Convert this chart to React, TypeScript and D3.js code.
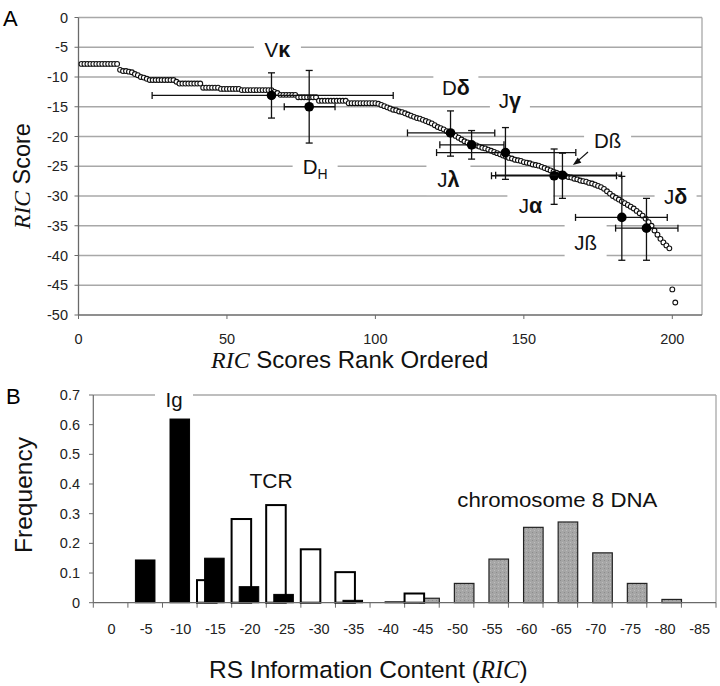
import React from "react";
import * as d3 from "d3";

// ---------- Panel A data ----------
const rankScores: number[] = [
  -7.8, -7.8, -7.8, -7.8, -7.8, -7.8, -7.8, -7.8, -7.8, -7.8, -7.8, -7.8, -7.8,
  -8.8, -9.0, -9.0, -9.1, -9.2, -9.5, -9.7, -10.0, -10.1, -10.3,
  -10.5, -10.5, -10.5, -10.5, -10.5, -10.5, -10.5, -10.5, -10.5,
  -10.8,
  -11.1, -11.1, -11.1, -11.1, -11.1, -11.1, -11.1, -11.1,
  -11.8, -11.8, -11.8, -11.8, -11.8, -11.8,
  -12.0, -12.0, -12.0, -12.0, -12.0, -12.0, -12.0,
  -12.2, -12.2, -12.2, -12.2, -12.2, -12.2, -12.2, -12.2, -12.2, -12.2, -12.2,
  -12.5, -12.7,
  -13.0, -13.0, -13.0, -13.0, -13.0, -13.0,
  -13.4, -13.4, -13.4, -13.4, -13.4, -13.4, -13.4,
  -14.0, -14.0, -14.0, -14.0, -14.0, -14.0, -14.0, -14.0, -14.0, -14.0,
  -14.4, -14.4, -14.4, -14.4, -14.4, -14.4, -14.4, -14.4, -14.4, -14.4,
  -14.5, -14.7, -14.9, -15.1, -15.3, -15.5, -15.6, -15.8, -15.9, -16.1,
  -16.3, -16.5, -16.7, -16.9, -17.0, -17.2, -17.4, -17.6, -17.8, -18.1,
  -18.4, -18.6, -18.8, -19.1, -19.3, -19.6, -19.9, -20.2, -20.5, -20.8,
  -21.0, -21.2, -21.4, -21.5, -21.7, -21.9, -22.0, -22.2, -22.4, -22.6,
  -22.8, -23.0, -23.2, -23.4, -23.6, -23.7, -23.9, -24.0, -24.1, -24.3,
  -24.4, -24.5, -24.7, -24.8, -24.9, -25.1, -25.3, -25.5, -25.7, -25.9,
  -26.1, -26.3, -26.5, -26.6, -26.8, -26.9, -27.1, -27.2, -27.4, -27.5,
  -27.6, -27.8, -27.9, -28.1, -28.3, -28.5, -28.8, -29.2, -29.6, -30.0,
  -30.3, -30.6, -30.9, -31.2, -31.5, -31.8, -32.1, -32.5, -32.9, -33.3,
  -33.8, -34.4, -35.0, -35.8, -36.5, -37.2, -37.8, -38.3, -38.8,
  -45.7, -47.9,
];

const markerNames = ["Vκ", "DH", "Dδ", "Jγ", "Dß", "Jλ", "Jα", "Jß", "Jδ"];
const markerRank = [65.0, 77.7, 125.3, 132.4, 143.8, 160.2, 163.0, 183.0, 191.3];
const markerScore = [-13.1, -15.0, -19.4, -21.4, -22.7, -26.6, -26.5, -33.6, -35.4];
const markerRankLo = [24.8, 69.3, 110.8, 121.7, 120.6, 139.1, 140.5, 167.4, 180.9];
const markerRankHi = [106.0, 86.4, 140.2, 143.3, 167.5, 181.2, 182.9, 198.3, 201.9];
const markerScoreLo = [-16.9, -21.1, -23.3, -23.8, -27.2, -31.4, -30.4, -40.8, -40.8];
const markerScoreHi = [-9.3, -8.9, -15.7, -19.0, -18.5, -22.1, -22.8, -26.7, -30.4];

const scoreTicks = [0, -5, -10, -15, -20, -25, -30, -35, -40, -45, -50];
const rankTicks = [0, 50, 100, 150, 200];

// ---------- Panel B data ----------
const ricBins = ["0", "-5", "-10", "-15", "-20", "-25", "-30", "-35", "-40", "-45", "-50", "-55", "-60", "-65", "-70", "-75", "-80", "-85"];
const tcrFreq = [0, 0, 0, 0.076, 0.282, 0.329, 0.180, 0.103, 0, 0.031, 0, 0, 0, 0, 0, 0, 0, 0];
const igFreq = [0, 0.144, 0.619, 0.150, 0.054, 0.028, 0, 0.008, 0, 0, 0, 0, 0, 0, 0, 0, 0, 0];
const chr8Freq = [0, 0, 0, 0, 0, 0, 0, 0, 0.003, 0.015, 0.065, 0.147, 0.254, 0.272, 0.168, 0.065, 0.011, 0];
const freqTicks = [0, 0.1, 0.2, 0.3, 0.4, 0.5, 0.6, 0.7];

const SANS = "'Liberation Sans', Arial, sans-serif";
const SERIF = "'Liberation Serif', 'Times New Roman', serif";

export default function App() {
  // Panel A scales
  const xA = d3.scaleLinear().domain([0, 210]).range([78.5, 702]);
  const yA = d3.scaleLinear().domain([-50, 0]).range([315, 17.5]);
  // Panel B scales
  const xB = d3.scaleBand<string>().domain(ricBins).range([93.3, 716]);
  const yB = d3.scaleLinear().domain([0, 0.7]).range([602.7, 395]);
  const bw = xB.bandwidth();
  const barW = bw * 0.565;
  const off = bw * 0.22;

  const grid = "#a8a8a8";
  const axisCol = "#6a6a6a";

  // annotation placements (rank/score coordinates of label baseline centre)
  const annA = [
    { t: "V", g: "κ", x: 67.0, y: -6.59, w: 47 },
    { t: "D", s: "H", x: 79.7, y: -26.3, w: 45 },
    { t: "D", g: "δ", x: 127.1, y: -13.0, w: 45 },
    { t: "J", g: "γ", x: 145.3, y: -15.2, w: 40 },
    { t: "Dß", x: 178.2, y: -21.9, w: 47 },
    { t: "J", g: "λ", x: 124.6, y: -28.5, w: 44 },
    { t: "J", g: "α", x: 152.2, y: -32.9, w: 46 },
    { t: "J", g: "δ", x: 201.1, y: -31.3, w: 42 },
    { t: "Jß", x: 170.8, y: -39.1, w: 42 },
  ];

  const cap = 3.5;

  return (
    <svg width={720} height={686} style={{ position: "absolute", left: 0, top: 0, background: "#fff" }} fontFamily={SANS}>
      <defs>
        <pattern id="grain" width="4" height="4" patternUnits="userSpaceOnUse">
          <rect width="4" height="4" fill="#a6a6a6" />
          <rect x="0" y="0" width="1" height="1" fill="#8c8c8c" />
          <rect x="2" y="2" width="1" height="1" fill="#bdbdbd" />
        </pattern>
      </defs>
      {/* ================= Panel A ================= */}
      <text x={3} y={26} fontSize={22}>A</text>
      {scoreTicks.map((v) => (
        <g key={"ga" + v}>
          {v !== -50 && (
            <line x1={xA(0)} x2={xA(210)} y1={yA(v)} y2={yA(v)} stroke={grid} strokeWidth={1.3} />
          )}
          <line x1={xA(0) - 4} x2={xA(0)} y1={yA(v)} y2={yA(v)} stroke={axisCol} strokeWidth={1} />
          <text x={68} y={yA(v) + 5} fontSize={14.5} textAnchor="end" fill="#222">{v}</text>
        </g>
      ))}
      <line x1={xA(210)} x2={xA(210)} y1={yA(0)} y2={yA(-50)} stroke={grid} strokeWidth={1.3} />
      <line x1={xA(0)} x2={xA(0)} y1={yA(0)} y2={yA(-50)} stroke={axisCol} strokeWidth={1.3} />
      <line x1={xA(0)} x2={xA(210)} y1={yA(-50)} y2={yA(-50)} stroke={axisCol} strokeWidth={1.3} />
      {rankTicks.map((r) => (
        <g key={"xa" + r}>
          <line x1={xA(r)} x2={xA(r)} y1={yA(-50)} y2={yA(-50) + 4} stroke={axisCol} />
          <text x={xA(r)} y={344} fontSize={14.5} textAnchor="middle" fill="#222">{r}</text>
        </g>
      ))}

      {/* label boxes (white, breaking grid lines) */}
      {annA.map((a, i) => (
        <rect key={"ab" + i} x={xA(a.x) - a.w / 2} y={yA(a.y) - 26} width={a.w} height={34} fill="#fff" />
      ))}
      {annA.map((a, i) => (
        <text key={"at" + i} x={xA(a.x)} y={yA(a.y)} fontSize={20.5} textAnchor="middle" fill="#111">
          <tspan>{a.t}</tspan>
          {a.g && <tspan fontWeight="bold" fontSize={21.5}>{a.g}</tspan>}
          {a.s && <tspan fontSize={14} dy={5}>{a.s}</tspan>}
        </text>
      ))}

      {/* rank ordered scores */}
      {rankScores.map((v, i) => (
        <circle key={"c" + i} cx={xA(i + 1)} cy={yA(v)} r={2.4} fill="#fff" stroke="#111" strokeWidth={1.1} />
      ))}

      {/* gene segment means with error bars */}
      {markerNames.map((n, i) => (
        <g key={"m" + n} stroke="#111" strokeWidth={1.3}>
          <line x1={xA(markerRankLo[i])} x2={xA(markerRankHi[i])} y1={yA(markerScore[i])} y2={yA(markerScore[i])} />
          <line x1={xA(markerRankLo[i])} x2={xA(markerRankLo[i])} y1={yA(markerScore[i]) - cap} y2={yA(markerScore[i]) + cap} />
          <line x1={xA(markerRankHi[i])} x2={xA(markerRankHi[i])} y1={yA(markerScore[i]) - cap} y2={yA(markerScore[i]) + cap} />
          <line x1={xA(markerRank[i])} x2={xA(markerRank[i])} y1={yA(markerScoreLo[i])} y2={yA(markerScoreHi[i])} />
          <line x1={xA(markerRank[i]) - cap} x2={xA(markerRank[i]) + cap} y1={yA(markerScoreLo[i])} y2={yA(markerScoreLo[i])} />
          <line x1={xA(markerRank[i]) - cap} x2={xA(markerRank[i]) + cap} y1={yA(markerScoreHi[i])} y2={yA(markerScoreHi[i])} />
          <circle cx={xA(markerRank[i])} cy={yA(markerScore[i])} r={4.8} fill="#000" stroke="none" />
        </g>
      ))}

      {/* arrow to Dß error bar end */}
      <line x1={xA(171.6)} y1={yA(-22.6)} x2={xA(168.2)} y2={yA(-24.1)} stroke="#111" strokeWidth={1.2} />
      <path d={`M${xA(166.5)},${yA(-24.8)} l8.5,-2.2 l-3.6,-5.4 z`} fill="#111" />

      <text x={22} y={168} fontSize={23.5} textAnchor="middle" transform="rotate(-90 30 168)" fill="#111">
        <tspan fontFamily={SERIF} fontStyle="italic">RIC</tspan>
        <tspan> Score</tspan>
      </text>
      <text x={211} y={368} fontSize={24} fill="#111">
        <tspan fontFamily={SERIF} fontStyle="italic">RIC</tspan>
        <tspan> Scores Rank Ordered</tspan>
      </text>

      {/* ================= Panel B ================= */}
      <text x={6} y={404} fontSize={22}>B</text>
      <line x1={93.3} x2={716} y1={yB(0.7)} y2={yB(0.7)} stroke={grid} strokeWidth={1.3} />
      <line x1={716} x2={716} y1={yB(0.7)} y2={yB(0)} stroke={grid} strokeWidth={1.3} />
      <line x1={93.3} x2={93.3} y1={yB(0.7)} y2={yB(0)} stroke={axisCol} strokeWidth={1.2} />
      {freqTicks.map((f) => (
        <g key={"yb" + f}>
          <line x1={89} x2={93.3} y1={yB(f)} y2={yB(f)} stroke={axisCol} />
          <text x={80} y={yB(f) + 5} fontSize={14.5} textAnchor="end" fill="#222">{f === 0 ? "0" : f.toFixed(1)}</text>
        </g>
      ))}
      {ricBins.map((b, i) => (
        <g key={"xb" + b}>
          <line x1={(xB(b) as number) + bw} x2={(xB(b) as number) + bw} y1={yB(0)} y2={yB(0) + 5} stroke={axisCol} />
          {i === 0 && <line x1={xB(b) as number} x2={xB(b) as number} y1={yB(0)} y2={yB(0) + 5} stroke={axisCol} />}
          <text x={(xB(b) as number) + bw / 2 + 1} y={634} fontSize={14.5} textAnchor="middle" fill="#222">{b}</text>
        </g>
      ))}

      {/* Ig label box breaking top border */}
      <rect x={155} y={386} width={38} height={26} fill="#fff" />
      <text x={174} y={407} fontSize={20.5} textAnchor="middle" fill="#111">Ig</text>
      <text x={271} y={487.5} fontSize={21} textAnchor="middle" fill="#111">TCR</text>
      <text x={457.3} y={506.5} fontSize={19.5} textLength={200} lengthAdjust="spacingAndGlyphs" fill="#111">chromosome 8 DNA</text>

      {/* bars */}
      {ricBins.map((b, i) =>
        chr8Freq[i] > 0 ? (
          <rect key={"g" + b} x={(xB(b) as number) + bw / 2 + off - barW / 2} y={yB(chr8Freq[i])} width={barW}
            height={yB(0) - yB(chr8Freq[i])} fill="url(#grain)" stroke="#222" strokeWidth={1.2} />
        ) : null
      )}
      {ricBins.map((b, i) =>
        tcrFreq[i] > 0 ? (
          <rect key={"w" + b} x={(xB(b) as number) + bw / 2 - off - barW / 2} y={yB(tcrFreq[i])} width={barW}
            height={yB(0) - yB(tcrFreq[i])} fill="#fff" stroke="#000" strokeWidth={2} />
        ) : null
      )}
      {ricBins.map((b, i) =>
        igFreq[i] > 0 ? (
          <rect key={"k" + b} x={(xB(b) as number) + bw / 2 - barW / 2} y={yB(igFreq[i])} width={barW}
            height={yB(0) - yB(igFreq[i])} fill="#000" stroke="#000" strokeWidth={1} />
        ) : null
      )}
      <line x1={93.3} x2={716} y1={yB(0)} y2={yB(0)} stroke={axisCol} strokeWidth={1.2} />

      <text x={32} y={495} fontSize={24.5} textAnchor="middle" transform="rotate(-90 32 495)" fill="#111">Frequency</text>
      <text x={209} y={678} fontSize={24.5} fill="#111">
        <tspan>RS Information Content (</tspan>
        <tspan fontFamily={SERIF} fontStyle="italic">RIC</tspan>
        <tspan>)</tspan>
      </text>
    </svg>
  );
}
